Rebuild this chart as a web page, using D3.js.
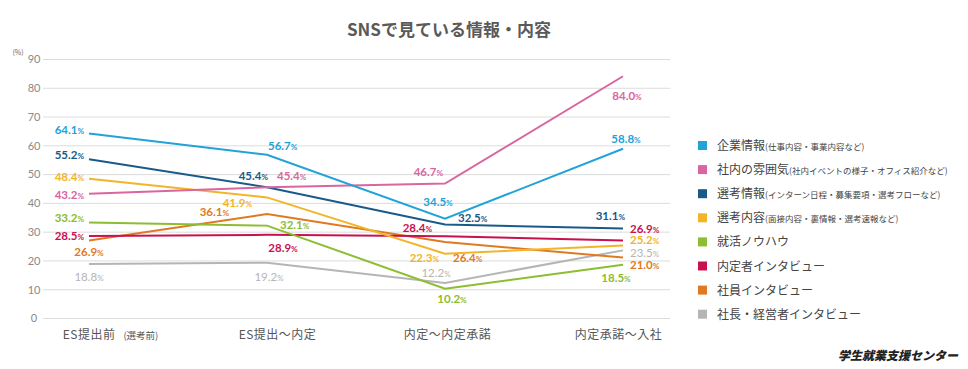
<!DOCTYPE html>
<html>
<head>
<meta charset="utf-8">
<script src="https://cdn.jsdelivr.net/npm/d3@7"></script>
<style>
  body { margin: 0; background: #fff; }
  svg text { font-family: "Noto Sans CJK JP", "Noto Sans", sans-serif; }
</style>
</head>
<body>
<div id="chart"></div>
<script>
// ---------------- data ----------------
var stages = ["ES提出前", "ES提出～内定", "内定～内定承諾", "内定承諾～入社"]
var stageNotes = ["(選考前)", "", "", ""]
var seriesNames = ["企業情報", "社内の雰囲気", "選考情報", "選考内容", "就活ノウハウ", "内定者インタビュー", "社員インタビュー", "社長・経営者インタビュー"]
var seriesNotes = ["(仕事内容・事業内容など)", "(社内イベントの様子・オフィス紹介など)", "(インターン日程・募集要項・選考フローなど)", "(面接内容・裏情報・選考速報など)", "", "", "", ""]
var kigyo = [64.1, 56.7, 34.5, 58.8]
var funiki = [43.2, 45.4, 46.7, 84.0]
var senkoJoho = [55.2, 45.4, 32.5, 31.1]
var senkoNaiyo = [48.4, 41.9, 22.3, 25.2]
var knowhow = [33.2, 32.1, 10.2, 18.5]
var naiteisha = [28.5, 28.9, 28.4, 26.9]
var shain = [26.9, 36.1, 26.4, 21.0]
var shacho = [18.8, 19.2, 12.2, 23.5]
var yTicks = [0, 10, 20, 30, 40, 50, 60, 70, 80, 90]

var allSeries = [kigyo, funiki, senkoJoho, senkoNaiyo, knowhow, naiteisha, shain, shacho]

// ---------------- styles / label placement ----------------
var colors = ["#22a3d8", "#d9669f", "#1a5a88", "#f2b52a", "#8dbd30", "#c8124f", "#df7a22", "#b5b5b5"]
// [anchor, dx, dy] per point, relative to the point
var labelPos = [
  [["end", -5, 0], ["start", 1, -5], ["middle", -7, -13], ["middle", 3, -6]],
  [["end", -5, 5], ["start", 10, -7], ["end", -2, -8], ["middle", 4, 24]],
  [["end", -5, 0], ["end", 1, -7], ["start", 13, -2], ["end", 2, -9]],
  [["end", -5, 2], ["end", -15, 10], ["end", -6, 8], ["start", 7, -1]],
  [["end", -5, 0], ["start", 13, 3], ["middle", 7, 14], ["middle", -7, 17]],
  [["end", -5, 4], ["middle", 16, 17], ["end", -13, -4], ["start", 7, -8]],
  [["middle", 0, 15], ["end", -38, 2], ["start", 8, 20], ["start", 7, 11]],
  [["middle", 0, 17], ["middle", 2, 18], ["middle", -9, -6], ["start", 7, 7]]
]

var W = 968, H = 369
var svg = d3.select("#chart").append("svg")
  .attr("width", W).attr("height", H)

var x = d3.scalePoint().domain(stages).range([89, 623])
var y = d3.scaleLinear().domain([0, 90]).range([318, 59])

// title
svg.append("text")
  .attr("x", 449).attr("y", 36)
  .attr("text-anchor", "middle")
  .attr("font-size", 17).attr("font-weight", "bold")
  .attr("fill", "#5a5a5a")
  .text("SNSで見ている情報・内容")

// grid + y axis
var yAxis = d3.axisLeft(y).tickValues(yTicks).tickSize(-(670 - 43)).tickFormat(d3.format("d"))
var gy = svg.append("g").attr("transform", "translate(43,0)").call(yAxis)
gy.select(".domain").remove()
gy.selectAll(".tick line").attr("stroke", "#dcdcdc").attr("stroke-width", 1)
gy.selectAll(".tick text")
  .attr("x", -3).attr("text-anchor", "middle").attr("dx", -6).attr("dy", "0.35em")
  .attr("fill", "#8a8a8a").attr("font-size", 11)
  .style("font-family", "Lato, sans-serif")

svg.append("text")
  .attr("x", 18).attr("y", 55)
  .attr("text-anchor", "middle")
  .attr("font-size", 7).attr("fill", "#666")
  .text("(%)")

// x labels
var xAxis = d3.axisBottom(x).tickSize(0).tickFormat("")
var gx = svg.append("g").attr("transform", "translate(0,318)").call(xAxis)
gx.select(".domain").remove()
var xl = gx.selectAll(".tick").append("text")
  .attr("y", 21)
  .attr("text-anchor", "middle")
  .attr("fill", "#555").attr("font-size", 12)
xl.each(function (d, i) {
  var t = d3.select(this)
  var dx = [21, 10, 2, -5][i]
  t.attr("x", dx)
  t.append("tspan").attr("letter-spacing", 0.5).text(d)
  if (stageNotes[i]) {
    t.append("tspan").attr("font-size", 9.5).attr("dx", 8).text(stageNotes[i])
  }
})

// lines
var line = d3.line()
  .x(function (d, i) { return x(stages[i]) })
  .y(function (d) { return y(d) })

// draw bottom series first so the top ones stay above
var order = d3.range(allSeries.length).reverse()
order.forEach(function (s) {
  svg.append("path")
    .datum(allSeries[s])
    .attr("d", line)
    .attr("fill", "none")
    .attr("stroke", colors[s])
    .attr("stroke-width", 2)
})

// value labels
allSeries.forEach(function (vals, s) {
  vals.forEach(function (v, i) {
    var p = labelPos[s][i]
    var t = svg.append("text")
      .attr("x", x(stages[i]) + p[1])
      .attr("y", y(v) + p[2])
      .attr("text-anchor", p[0])
      .attr("fill", colors[s])
      .attr("font-size", 11.5)
      .attr("font-weight", s === 7 ? "normal" : "bold")
      .style("font-family", "Lato, sans-serif")
    t.append("tspan").text(v.toFixed(1))
    t.append("tspan").attr("font-size", 8).text("%")
  })
})

// legend
var lg = svg.append("g").attr("transform", "translate(698,0)")
seriesNames.forEach(function (name, i) {
  var ly = 146 + i * 24.1
  lg.append("rect")
    .attr("x", 0).attr("y", ly - 5)
    .attr("width", 9).attr("height", 9)
    .attr("fill", colors[i])
  var t = lg.append("text")
    .attr("x", 19).attr("y", ly + 4)
    .attr("fill", "#444").attr("font-size", 12)
  t.append("tspan").text(name)
  if (seriesNotes[i]) {
    t.append("tspan").attr("font-size", 8.5).text(seriesNotes[i])
  }
})

// source
svg.append("text")
  .attr("x", 958).attr("y", 360)
  .attr("text-anchor", "end")
  .attr("font-size", 12).attr("font-weight", 900)
  .attr("font-style", "italic")
  .attr("fill", "#222")
  .text("学生就業支援センター")
</script>
</body>
</html>
